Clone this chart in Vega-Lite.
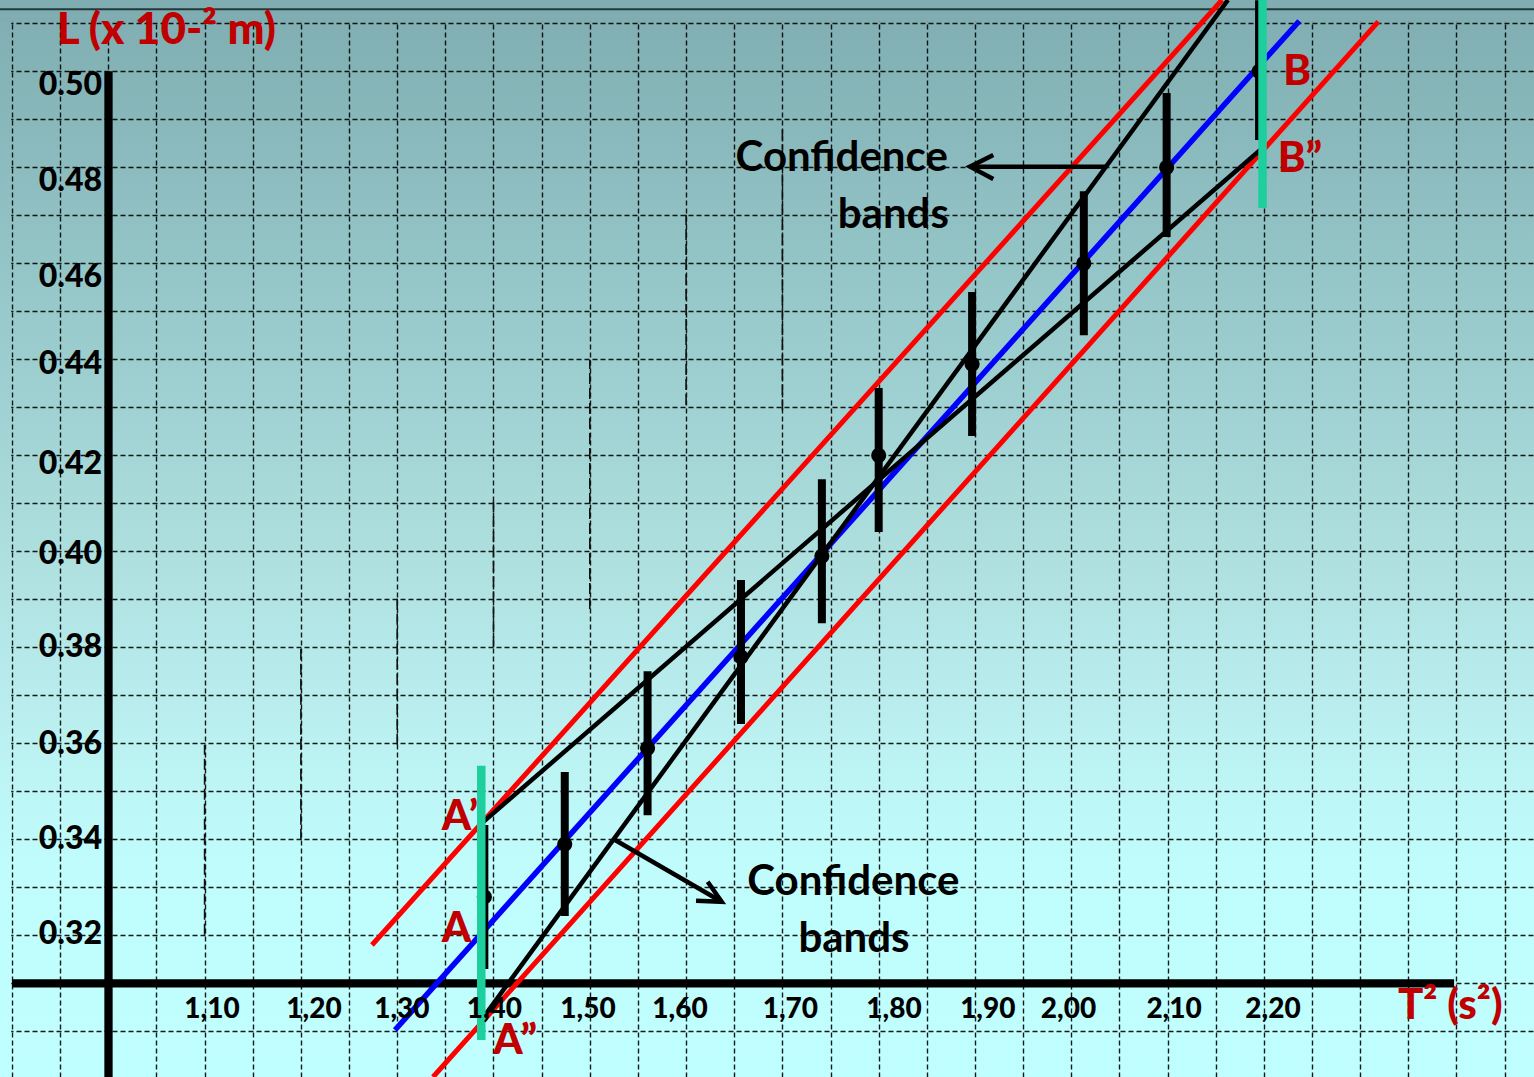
{
  "$schema": "https://vega.github.io/schema/vega-lite/v6.json",
  "width": 1534,
  "height": 1077,
  "autosize": {"type": "none"},
  "padding": 0,
  "background": "#c0ffff",
  "view": {
    "stroke": null,
    "fill": {"gradient": "linear", "x1": 0, "y1": 0, "x2": 0, "y2": 1,
      "stops": [
        {"offset": 0, "color": "#7fadb1"},
        {"offset": 0.25, "color": "#94c5c7"},
        {"offset": 0.48, "color": "#abdcdc"},
        {"offset": 0.66, "color": "#baeeee"},
        {"offset": 0.8, "color": "#c0fcfc"},
        {"offset": 1, "color": "#c0ffff"}
      ]}
  },
  "config": {"text": {"font": "Lato", "fontWeight": "bold"}},
  "datasets": {
    "coverLeft": [{"T2": 0.88754, "T2e": 0.8992, "L": 0.29048, "Le": 0.51485}],
    "coverTop": [{"T2": 0.88754, "T2e": 2.48048, "L": 0.5103, "Le": 0.51485}],
    "topLine": [{"T2": 0.88754, "T2e": 2.48048, "L": 0.51292}],
    "axisX": [{"T2": 0.9, "T2e": 2.3975, "L": 0.31}],
    "axisY": [{"T2": 1.0002, "L": 0.5, "Le": 0.29048}],
    "points": [
      {"T2": 1.3905, "L": 0.328, "lo": 0.313, "hi": 0.343},
      {"T2": 1.474, "L": 0.339, "lo": 0.324, "hi": 0.354},
      {"T2": 1.560, "L": 0.359, "lo": 0.345, "hi": 0.375},
      {"T2": 1.657, "L": 0.378, "lo": 0.364, "hi": 0.394},
      {"T2": 1.741, "L": 0.399, "lo": 0.385, "hi": 0.415},
      {"T2": 1.800, "L": 0.420, "lo": 0.404, "hi": 0.434},
      {"T2": 1.897, "L": 0.439, "lo": 0.424, "hi": 0.454},
      {"T2": 2.013, "L": 0.460, "lo": 0.445, "hi": 0.475},
      {"T2": 2.099, "L": 0.480, "lo": 0.4655, "hi": 0.4955},
      {"T2": 2.195, "L": 0.500, "lo": 0.4857, "hi": 0.5148}
    ],
    "bands": [
      {"series": "band_hi", "T2": 1.2738, "L": 0.31798, "o": 0},
      {"series": "band_hi", "T2": 2.1565, "L": 0.51485, "o": 1},
      {"series": "band_lo", "T2": 1.3372, "L": 0.29048, "o": 0},
      {"series": "band_lo", "T2": 2.3188, "L": 0.51033, "o": 1}
    ],
    "fit": [
      {"series": "fit", "T2": 1.2977, "L": 0.30027, "o": 0},
      {"series": "fit", "T2": 2.2368, "L": 0.51048, "o": 1}
    ],
    "blacklines": [
      {"series": "max", "T2": 1.3912, "L": 0.30340, "o": 0},
      {"series": "max", "T2": 2.1627, "L": 0.51485, "o": 1},
      {"series": "min", "T2": 1.3877, "L": 0.34333, "o": 0},
      {"series": "min", "T2": 2.1983, "L": 0.48396, "o": 1},
      {"series": "arrow1", "T2": 2.0368, "L": 0.48013, "o": 0},
      {"series": "arrow1", "T2": 1.8948, "L": 0.48013, "o": 1},
      {"series": "arrow1h", "T2": 1.9190, "L": 0.48256, "o": 0},
      {"series": "arrow1h", "T2": 1.8948, "L": 0.48013, "o": 1},
      {"series": "arrow1h", "T2": 1.9190, "L": 0.47756, "o": 2},
      {"series": "arrow2", "T2": 1.5262, "L": 0.33985, "o": 0},
      {"series": "arrow2", "T2": 1.6370, "L": 0.32700, "o": 1},
      {"series": "arrow2h", "T2": 1.6224, "L": 0.33117, "o": 0},
      {"series": "arrow2h", "T2": 1.6370, "L": 0.32700, "o": 1},
      {"series": "arrow2h", "T2": 1.6103, "L": 0.32721, "o": 2}
    ],
    "green": [
      {"T2": 1.3873, "L": 0.2982, "Le": 0.3553},
      {"T2": 2.1986, "L": 0.4715, "Le": 0.51485}
    ],
    "drops": [
      {"T2": 1.10, "L": 0.3201, "Le": 0.3597},
      {"T2": 1.20, "L": 0.3399, "Le": 0.3805},
      {"T2": 1.30, "L": 0.3597, "Le": 0.3909},
      {"T2": 1.40, "L": 0.3800, "Le": 0.4107},
      {"T2": 1.50, "L": 0.3880, "Le": 0.4399},
      {"T2": 1.60, "L": 0.4305, "Le": 0.4701},
      {"T2": 1.70, "L": 0.4294, "Le": 0.4878}
    ],
    "yticks": [
      {"label": "0.50", "T2": 0.99346, "L": 0.49496},
      {"label": "0.48", "T2": 0.99346, "L": 0.47502},
      {"label": "0.46", "T2": 0.99346, "L": 0.45502},
      {"label": "0.44", "T2": 0.99346, "L": 0.43698},
      {"label": "0.42", "T2": 0.99346, "L": 0.41615},
      {"label": "0.40", "T2": 0.99346, "L": 0.39740},
      {"label": "0.38", "T2": 0.99346, "L": 0.37794},
      {"label": "0.36", "T2": 0.99346, "L": 0.35781},
      {"label": "0.34", "T2": 0.99346, "L": 0.33802},
      {"label": "0.32", "T2": 0.99346, "L": 0.31823}
    ],
    "xticks": [
      {"label": "1,10", "T2": 1.1077, "L": 0.30277},
      {"label": "1,20", "T2": 1.2136, "L": 0.30277},
      {"label": "1,30", "T2": 1.3048, "L": 0.30277},
      {"label": "1,40", "T2": 1.4009, "L": 0.30277},
      {"label": "1,50", "T2": 1.4981, "L": 0.30277},
      {"label": "1,60", "T2": 1.5937, "L": 0.30277},
      {"label": "1,70", "T2": 1.7083, "L": 0.30277},
      {"label": "1,80", "T2": 1.8159, "L": 0.30277},
      {"label": "1,90", "T2": 1.9133, "L": 0.30277},
      {"label": "2,00", "T2": 1.9971, "L": 0.30277},
      {"label": "2,10", "T2": 2.1067, "L": 0.30277},
      {"label": "2,20", "T2": 2.2095, "L": 0.30277}
    ],
    "redlabels": [
      {"label": "T² (s²)", "T2": 2.33925, "L": 0.3025},
      {"label": "A’", "T2": 1.34621, "L": 0.34194},
      {"label": "A", "T2": 1.34621, "L": 0.31867},
      {"label": "A”", "T2": 1.39979, "L": 0.29520},
      {"label": "B", "T2": 2.22015, "L": 0.49715},
      {"label": "B”", "T2": 2.21433, "L": 0.47908}
    ],
    "title": [
      {"label": "L (x 10-² m)", "T2": 0.94642, "L": 0.50569}
    ],
    "notes": [
      {"label": "Confidence", "T2": 1.76158, "L": 0.47929},
      {"label": "bands", "T2": 1.81516, "L": 0.46729},
      {"label": "Confidence", "T2": 1.77363, "L": 0.32840},
      {"label": "bands", "T2": 1.77435, "L": 0.31658}
    ]
  },
  "encoding": {
    "x": {
      "field": "T2", "type": "quantitative",
      "scale": {"domain": [0.88754, 2.48048], "nice": false, "zero": false},
      "axis": {
        "values": [0.9,0.95,1,1.05,1.1,1.15,1.2,1.25,1.3,1.35,1.4,1.45,1.5,1.55,1.6,1.65,1.7,1.75,1.8,1.85,1.9,1.95,2,2.05,2.1,2.15,2.2,2.25,2.3,2.35,2.4,2.45],
        "grid": true, "labels": false, "ticks": false, "domain": false, "title": null,
        "gridColor": "#000000", "gridDash": [5, 3], "gridWidth": 1.4, "gridOpacity": 0.9,
        "minExtent": 0, "maxExtent": 0
      }
    },
    "y": {
      "field": "L", "type": "quantitative",
      "scale": {"domain": [0.29048, 0.51485], "nice": false, "zero": false},
      "axis": {
        "values": [0.3,0.31,0.32,0.33,0.34,0.35,0.36,0.37,0.38,0.39,0.4,0.41,0.42,0.43,0.44,0.45,0.46,0.47,0.48,0.49,0.5,0.51],
        "grid": true, "labels": false, "ticks": false, "domain": false, "title": null,
        "gridColor": "#000000", "gridDash": [5, 3], "gridWidth": 1.4, "gridOpacity": 0.9,
        "minExtent": 0, "maxExtent": 0
      }
    }
  },
  "layer": [
    {
      "data": {"name": "coverLeft"},
      "mark": {"type": "rect", "stroke": null,
        "fill": {"gradient": "linear", "x1": 0, "y1": 0, "x2": 0, "y2": 1,
          "stops": [
            {"offset": 0, "color": "#7fadb1"},
            {"offset": 0.25, "color": "#94c5c7"},
            {"offset": 0.48, "color": "#abdcdc"},
            {"offset": 0.66, "color": "#baeeee"},
            {"offset": 0.8, "color": "#c0fcfc"},
            {"offset": 1, "color": "#c0ffff"}
          ]}},
      "encoding": {"x2": {"field": "T2e"}, "y2": {"field": "Le"}}
    },
    {
      "data": {"name": "coverTop"},
      "mark": {"type": "rect", "fill": "#7fadb1", "stroke": null},
      "encoding": {"x2": {"field": "T2e"}, "y2": {"field": "Le"}}
    },
    {
      "data": {"name": "topLine"},
      "mark": {"type": "rule", "color": "#203a3a", "strokeWidth": 2},
      "encoding": {"x2": {"field": "T2e"}}
    },
    {
      "data": {"name": "drops"},
      "mark": {"type": "rule", "color": "#111111", "strokeWidth": 1.6, "strokeDash": [11, 4]},
      "encoding": {"y2": {"field": "Le"}}
    },
    {
      "data": {"name": "axisY"},
      "mark": {"type": "rule", "color": "#000000", "strokeWidth": 8.3},
      "encoding": {"y2": {"field": "Le"}}
    },
    {
      "data": {"name": "axisX"},
      "mark": {"type": "rule", "color": "#000000", "strokeWidth": 8.3},
      "encoding": {"x2": {"field": "T2e"}}
    },
    {
      "data": {"name": "bands"},
      "mark": {"type": "line", "strokeWidth": 5, "color": "#ff0000", "clip": true},
      "encoding": {
        "detail": {"field": "series", "type": "nominal"},
        "order": {"field": "o", "type": "quantitative"}
      }
    },
    {
      "data": {"name": "fit"},
      "mark": {"type": "line", "strokeWidth": 5.5, "color": "#0000ff", "clip": true},
      "encoding": {"order": {"field": "o", "type": "quantitative"}}
    },
    {
      "data": {"name": "blacklines"},
      "mark": {"type": "line", "strokeWidth": 4.5, "color": "#000000", "clip": true, "strokeJoin": "miter"},
      "encoding": {
        "detail": {"field": "series", "type": "nominal"},
        "order": {"field": "o", "type": "quantitative"}
      }
    },
    {
      "data": {"name": "points"},
      "mark": {"type": "rule", "color": "#000000", "strokeWidth": 8},
      "encoding": {"y": {"field": "lo", "type": "quantitative"}, "y2": {"field": "hi"}}
    },
    {
      "data": {"name": "points"},
      "mark": {"type": "point", "shape": "circle", "filled": true, "color": "#000000", "opacity": 1, "size": 230}
    },
    {
      "data": {"name": "green"},
      "mark": {"type": "rule", "color": "#1dcf9d", "strokeWidth": 8.5},
      "encoding": {"y2": {"field": "Le"}}
    },
    {
      "data": {"name": "yticks"},
      "mark": {"type": "text", "align": "right", "baseline": "alphabetic", "fontSize": 32, "fontWeight": 900, "color": "#000000"},
      "encoding": {"text": {"field": "label"}}
    },
    {
      "data": {"name": "xticks"},
      "mark": {"type": "text", "align": "center", "baseline": "alphabetic", "fontSize": 28, "fontWeight": 900, "color": "#000000"},
      "encoding": {"text": {"field": "label"}}
    },
    {
      "data": {"name": "redlabels"},
      "mark": {"type": "text", "align": "left", "baseline": "alphabetic", "fontSize": 42, "fontWeight": 900, "color": "#c00000"},
      "encoding": {"text": {"field": "label"}}
    },
    {
      "data": {"name": "title"},
      "mark": {"type": "text", "align": "left", "baseline": "alphabetic", "fontSize": 44, "fontWeight": 900, "color": "#c00000"},
      "encoding": {"text": {"field": "label"}}
    },
    {
      "data": {"name": "notes"},
      "mark": {"type": "text", "align": "center", "baseline": "alphabetic", "fontSize": 42, "color": "#000000"},
      "encoding": {"text": {"field": "label"}}
    }
  ]
}
